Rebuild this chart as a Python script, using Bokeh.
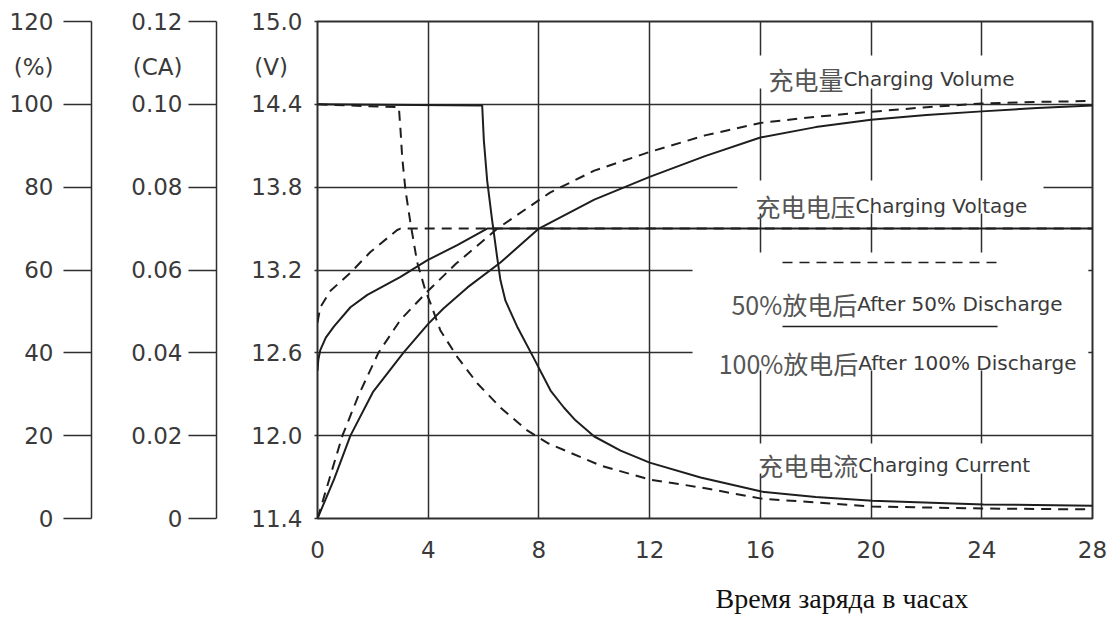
from bokeh.plotting import figure
from bokeh.models import Range1d, LinearAxis, FixedTicker, Label, BoxAnnotation, Title
from bokeh.embed import file_html
from bokeh.resources import INLINE

# ---------------- data ----------------
x_ticks = [0, 4, 8, 12, 16, 20, 24, 28]
x_labels = ["0", "4", "8", "12", "16", "20", "24", "28"]
v_ticks = [11.4, 12.0, 12.6, 13.2, 13.8, 14.4, 15.0]
v_labels = ["11.4", "12.0", "12.6", "13.2", "13.8", "14.4", "15.0"]
pct_ticks = [0, 20, 40, 60, 80, 100, 120]
pct_labels = ["0", "20", "40", "60", "80", "100", "120"]
ca_ticks = [0, 0.02, 0.04, 0.06, 0.08, 0.10, 0.12]
ca_labels = ["0", "0.02", "0.04", "0.06", "0.08", "0.10", "0.12"]
unit_v, unit_ca, unit_pct = "(V)", "(CA)", "(%)"
x_title = "Время заряда в часах"

# charging voltage (V)
volt100_t = [0, 0.03, 0.1, 0.3, 0.59, 1.19, 1.8, 3.0, 3.96, 5.05, 6.13, 28]
volt100_v = [12.47, 12.55, 12.62, 12.71, 12.79, 12.93, 13.02, 13.15, 13.27, 13.38, 13.5, 13.5]
volt50_t = [0, 0.1, 0.47, 1.19, 1.91, 2.88, 3.0, 28]
volt50_v = [12.82, 12.93, 13.05, 13.18, 13.33, 13.49, 13.5, 13.5]

# charging volume (%)
vol100_t = [0, 0.6, 1.19, 2.0, 3.1, 4.0, 4.55, 5.42, 6.61, 8, 10, 12, 14, 16, 18, 20, 22, 24, 26, 28]
vol100_p = [0, 9.5, 20, 30.5, 40, 47, 50.7, 55.8, 61.8, 70, 77, 82.5, 87.5, 92, 94.5, 96.3, 97.4, 98.3, 99.1, 99.7]
vol50_t = [0, 0.45, 0.9, 1.5, 2.2, 3, 4, 5, 6.5, 8.4, 10, 12, 14, 16, 18, 20, 22, 24, 26, 28]
vol50_p = [0, 10, 20, 30, 40, 48, 55, 61.5, 70, 78.7, 84, 88.5, 92.5, 95.5, 97, 98.2, 99.3, 100.2, 100.6, 100.8]

# charging current (CA)
cur100_t = [0, 5.95, 6.01, 6.13, 6.31, 6.49, 6.61, 6.79, 7.23, 7.8, 8.42, 8.9, 9.32, 10.0, 10.95, 12.0, 13.84, 16.04, 18.0, 20.05, 24.06, 28]
cur100_c = [0.1, 0.0997, 0.0913, 0.0816, 0.072, 0.0631, 0.0575, 0.0526, 0.0461, 0.0389, 0.0309, 0.0268, 0.0237, 0.0198, 0.0164, 0.0135, 0.0099, 0.0065, 0.0052, 0.0043, 0.0034, 0.0031]
cur50_t = [0, 2.94, 3.0, 3.06, 3.18, 3.36, 3.6, 3.9, 4.08, 4.44, 5.06, 5.78, 6.61, 7.59, 8.35, 10.22, 12, 13.84, 16.04, 20.05, 24.06, 28]
cur50_c = [0.1, 0.0993, 0.0937, 0.0872, 0.0792, 0.0713, 0.0619, 0.055, 0.052, 0.0454, 0.0389, 0.0326, 0.0268, 0.0212, 0.0181, 0.0128, 0.0094, 0.0075, 0.0048, 0.0029, 0.0024, 0.0022]

# ---------------- style ----------------
INK = "#1e1e1e"
GRID = "#2e2e2e"
TXT = "#3a3a3a"
CJK = "#555555"
NUMFONT = "DejaVu Sans"
DASH = "10 7"
NB = "\u00a0"

p = figure(width=1110, height=620, output_backend="svg", toolbar_location=None,
           x_range=Range1d(0, 28), y_range=Range1d(11.4, 15.0),
           min_border_left=317, min_border_right=18, min_border_top=21, min_border_bottom=102)
p.extra_y_ranges = {"pct": Range1d(0, 120), "ca": Range1d(0, 0.12)}
p.background_fill_color = "white"
p.border_fill_color = "white"
p.outline_line_color = GRID
p.outline_line_width = 2

# grid
p.xgrid.ticker = FixedTicker(ticks=x_ticks)
p.ygrid.ticker = FixedTicker(ticks=v_ticks)
for g in (p.xgrid, p.ygrid):
    g.grid_line_color = GRID
    g.grid_line_width = 1.5
    g.grid_line_alpha = 1

# x axis
xa = p.xaxis[0]
xa.ticker = FixedTicker(ticks=x_ticks)
xa.major_label_overrides = {t: l for t, l in zip(x_ticks, x_labels)}
xa.axis_line_color = None
xa.major_tick_out = 0
xa.major_tick_in = 0
xa.minor_tick_line_color = None
xa.major_label_standoff = 22
xa.major_label_text_font = NUMFONT
xa.major_label_text_font_size = "23px"
xa.major_label_text_color = TXT
xa.axis_label = " "
xa.axis_label_standoff = 14
xa.axis_label_text_font_size = "1px"


def style_y(ax, ticks, labels, unit_pos, unit_text, tick_out, standoff, line=True, gap=None):
    # major ticks carry the labels (numbers + unit), minor ticks draw the marks
    ax.ticker = FixedTicker(ticks=list(ticks) + [unit_pos], minor_ticks=list(ticks))
    ov = {t: l for t, l in zip(ticks, labels)}
    ov[unit_pos] = unit_text
    ax.major_label_overrides = ov
    ax.major_tick_out = tick_out
    ax.major_tick_in = 0
    ax.major_tick_line_color = None
    ax.minor_tick_out = tick_out
    ax.minor_tick_in = 0
    ax.minor_tick_line_color = GRID
    ax.minor_tick_line_width = 1.5
    ax.axis_line_color = GRID if line else None
    ax.axis_line_width = 1.5
    ax.major_label_standoff = standoff
    ax.major_label_text_font = NUMFONT
    ax.major_label_text_font_size = "23px"
    ax.major_label_text_color = TXT
    if gap is not None:
        ax.axis_label = " "
        ax.axis_label_standoff = gap
        ax.axis_label_text_font_size = "1px"


yv = p.yaxis[0]
style_y(yv, v_ticks, v_labels, 14.674, unit_v + NB + NB, 3, 12, line=False, gap=28)
yca = LinearAxis(y_range_name="ca")
style_y(yca, ca_ticks, ca_labels, 0.1091, unit_ca, 28, 6, gap=33)
p.add_layout(yca, "left")
ypc = LinearAxis(y_range_name="pct")
style_y(ypc, pct_ticks, pct_labels, 109.1, unit_pct, 28, 10)
p.add_layout(ypc, "left")

# x axis title
p.add_layout(Title(text=x_title, align="left", offset=398, standoff=4,
                   text_font="Liberation Serif", text_font_size="28px",
                   text_font_style="normal", text_color="#111111"), "below")

# white boxes behind texts (interrupt grid)
for (l, r, b, t) in [(15.4, 26.0, 14.515, 14.754), (15.17, 26.23, 13.609, 13.848),
                     (15.3, 26.0, 11.726, 11.943), (13.55, 27.85, 12.472, 13.327)]:
    p.add_layout(BoxAnnotation(left=l, right=r, bottom=b, top=t, fill_color="white",
                               fill_alpha=1, line_color=None, level="underlay"))

# curves
p.line(volt100_t, volt100_v, line_color=INK, line_width=2)
p.line(volt50_t, volt50_v, line_color=INK, line_width=2, line_dash=DASH)
p.line(vol100_t, vol100_p, line_color=INK, line_width=2, y_range_name="pct")
p.line(vol50_t, vol50_p, line_color=INK, line_width=2, line_dash=DASH, y_range_name="pct")
p.line(cur100_t, cur100_c, line_color=INK, line_width=2, y_range_name="ca")
p.line(cur50_t, cur50_c, line_color=INK, line_width=2, line_dash=DASH, y_range_name="ca")

# legend samples
p.segment(x0=[16.8], y0=[13.254], x1=[24.57], y1=[13.254], line_color=INK, line_width=1.5, line_dash=DASH)
p.segment(x0=[16.8], y0=[12.79], x1=[24.57], y1=[12.79], line_color=INK, line_width=1.5)


def lab(x, y, text, font, size, color, align, baseline="alphabetic"):
    p.add_layout(Label(x=x, y=y, text=text, text_font=font, text_font_size=size,
                       text_color=color, text_align=align, text_baseline=baseline))


rows = [
    (19.0, 14.58, "充电量", "Charging Volume"),
    (19.44, 13.667, "充电电压", "Charging Voltage"),
    (19.5, 12.954, "50%放电后", "After 50% Discharge"),
    (19.54, 12.523, "100%放电后", "After 100% Discharge"),
    (19.54, 11.791, "充电电流", "Charging Current"),
]
for x, y, zh, en in rows:
    lab(x, y, zh, "Noto Sans CJK SC", "25px", CJK, "right")
    lab(x, y, en, NUMFONT, "20px", TXT, "left")

open("out.html", "w").write(file_html(p, INLINE))
